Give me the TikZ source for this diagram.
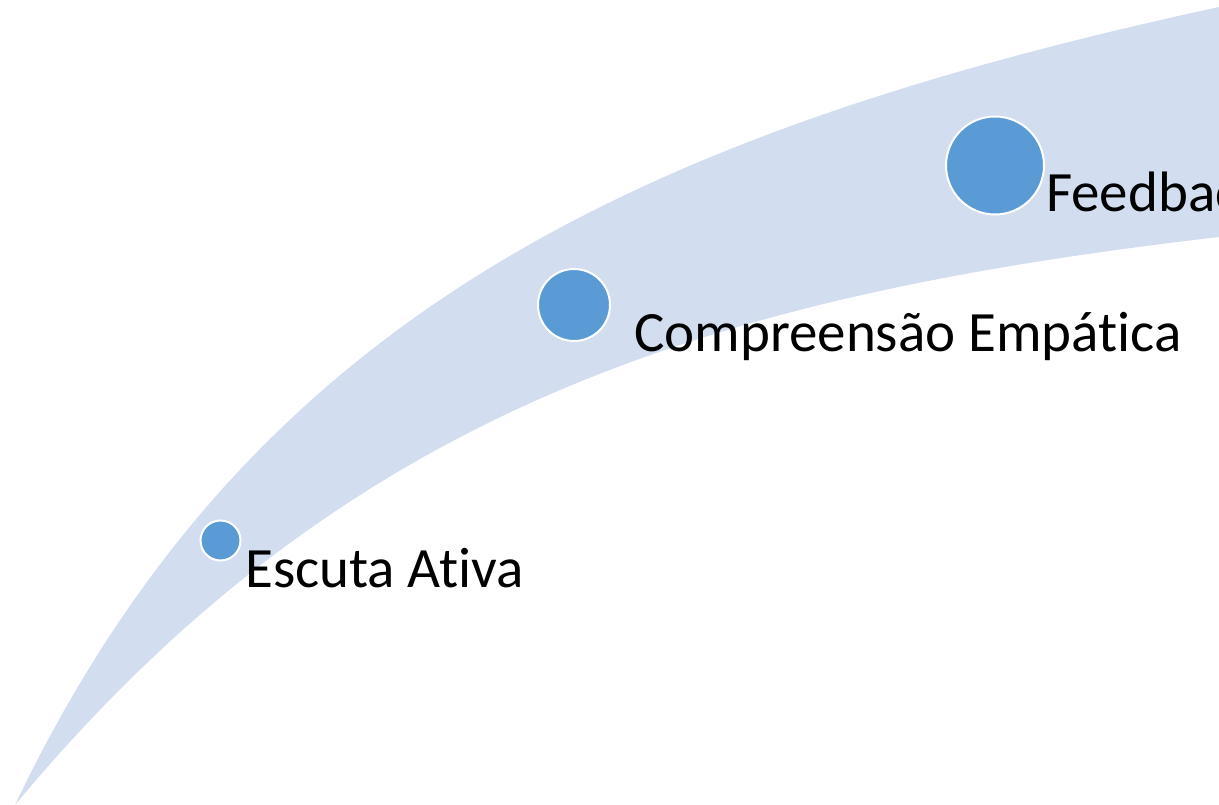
\documentclass[tikz,border=0pt]{standalone}
\usepackage{fontspec}
\setmainfont[Ligatures={NoCommon}]{Carlito}
\definecolor{band}{HTML}{D2DDEF}
\definecolor{dot}{HTML}{5B9BD5}
\tikzset{
  dotnode/.style={circle, fill=dot, draw=white, line width=2pt, inner sep=0pt},
  lbl/.style={anchor=base west, inner sep=0pt, font=\fontsize{57}{66}\selectfont, text=black}
}
\begin{document}
\begin{tikzpicture}[x=1pt,y=-1pt]
\useasboundingbox (0,0) rectangle (1219,805);
\begin{scope}
\clip (0,0) rectangle (1219,805);
\fill[band] (15,805) .. controls (247,319) and (633,134) .. (1219,7)
  -- (1219,237) .. controls (722,295) and (350,402) .. (15,805) -- cycle;
\end{scope}
\node[dotnode, minimum size=40pt] (c1) at (220.5,540.5) {};
\node[dotnode, minimum size=72pt] (c2) at (574,305) {};
\node[dotnode, minimum size=98pt] (c3) at (995,165.5) {};
\node[lbl] (t1) at (245,587) {Escuta At\kern0pt iva};
\node[lbl] (t2) at (634,352) {Compreensão Empát\kern0pt ica};
\node[lbl] (t3) at (1046,212) {Feedback};
\end{tikzpicture}
\end{document}
